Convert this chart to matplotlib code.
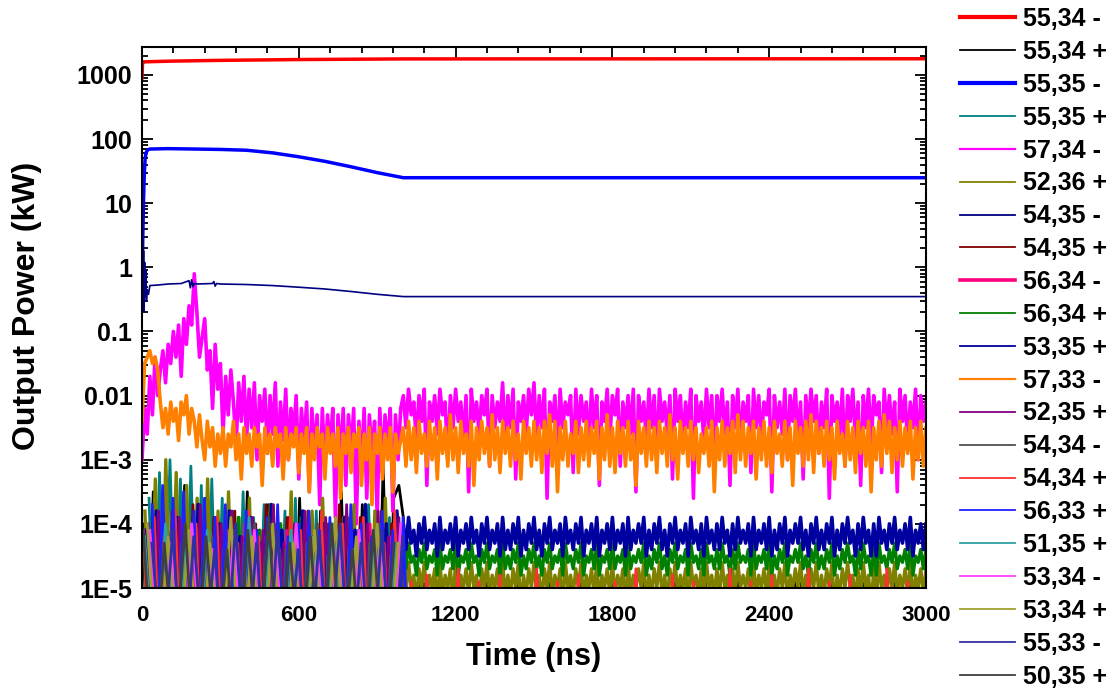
import numpy as np
import matplotlib
matplotlib.use("Agg")
import matplotlib.pyplot as plt
from matplotlib.lines import Line2D
from matplotlib.ticker import FixedLocator, FixedFormatter, MultipleLocator, LogLocator, NullFormatter

plt.rcParams['font.family'] = ['Liberation Sans', 'DejaVu Sans']
plt.rcParams['font.weight'] = 'bold'

# ---------------- data ----------------
labels = ["55,34 -", "55,34 +", "55,35 -", "55,35 +", "57,34 -", "52,36 +", "54,35 -",
          "54,35 +", "56,34 -", "56,34 +", "53,35 +", "57,33 -", "52,35 +", "54,34 -",
          "54,34 +", "56,33 +", "51,35 +", "53,34 -", "53,34 +", "55,33 -", "50,35 +"]

# sample times (ns)
t_fine_pre = np.arange(0, 1000, 10)
t_post = np.arange(1000, 3001, 10)
t_post_c = np.arange(1000, 3001, 20)
t_pre = np.arange(0, 1000, 20)
t_pre40 = np.arange(0, 1000, 40)

# smooth lines (kW)
red_t = [0, 2, 5, 100, 300, 600, 1000, 3000]
red_p = [900, 1550, 1600, 1640, 1690, 1740, 1780, 1790]

blue_t = [0, 3, 6, 9, 12, 16, 22, 30, 100, 200, 300, 400, 500, 600, 700, 800, 900, 1000, 3000]
blue_p = [0.3, 3, 12, 30, 50, 62, 68, 70, 71, 70, 69, 67, 61, 53, 45, 37, 30, 25, 25]

navy_t = [0, 2, 4, 6, 8, 10, 12, 14, 17, 20, 25, 30, 60, 100, 150, 180, 185, 190, 195, 200,
          210, 270, 275, 280, 285, 300, 400, 500, 600, 700, 800, 900, 1000, 3000]
navy_p = [0.08, 2.5, 0.4, 1.8, 0.2, 1.2, 0.35, 0.9, 0.3, 0.45, 0.38, 0.52, 0.53, 0.55, 0.56,
          0.62, 0.48, 0.64, 0.5, 0.56, 0.55, 0.56, 0.6, 0.51, 0.56, 0.55, 0.54, 0.52, 0.49,
          0.46, 0.42, 0.38, 0.35, 0.35]

# noisy series: log10(P/kW) x 10  (values below -50 lie under the axis floor)
mag_pre = [-30, -22, -26, -17, -23, -14, -20, -16, -13, -18,
           -12, -15, -10, -14, -9, -17, -8, -12, -6, -9,
           -1, -7, -14, -11, -8, -16, -13, -22, -12, -19,
           -15, -26, -17, -23, -16, -21, -28, -18, -24, -17,
           -27, -19, -25, -18, -30, -20, -24, -19, -29, -20,
           -26, -18, -31, -21, -27, -19, -30, -22, -26, -20,
           -33, -22, -28, -21, -35, -22, -29, -23, -37, -22,
           -31, -23, -28, -22, -39, -23, -30, -22, -34, -23,
           -29, -22, -40, -24, -31, -22, -36, -23, -29, -24,
           -39, -22, -32, -23, -28, -22, -38, -23, -30, -22]
mag_post = [-20, -25, -19, -23, -21, -27, -20, -24, -19, -34,
            -21, -24, -20, -26, -19, -23, -21, -30, -20, -25,
            -19, -24, -21, -27, -20, -35, -19, -24, -21, -26,
            -20, -23, -19, -31, -20, -25, -21, -24, -18, -28,
            -20, -25, -19, -33, -21, -24, -20, -26, -19, -23,
            -18, -27, -20, -25, -19, -36, -21, -24, -20, -29,
            -19, -25, -21, -23, -20, -32, -19, -26, -20, -24,
            -21, -28, -19, -25, -20, -34, -21, -24, -19, -27,
            -20, -23, -19, -31, -21, -25, -20, -26, -19, -35,
            -20, -24, -21, -27, -19, -25, -20, -30, -19, -24,
            -21, -26, -20, -33, -19, -24, -20, -28, -21, -25,
            -19, -36, -20, -24, -21, -27, -19, -25, -20, -31,
            -20, -24, -19, -26, -21, -34, -20, -25, -19, -28,
            -21, -24, -20, -32, -19, -25, -20, -27, -21, -23,
            -19, -35, -20, -25, -21, -26, -19, -30, -20, -24,
            -19, -27, -21, -33, -20, -25, -19, -24, -20, -29,
            -21, -25, -19, -36, -20, -24, -21, -26, -19, -31,
            -20, -24, -19, -27, -21, -34, -20, -25, -19, -28,
            -20, -23, -21, -32, -19, -25, -20, -26, -21, -35,
            -19, -24, -20, -28, -21, -25, -19, -30, -20, -24,
            -21]

ora_pre = [-24, -15, -14, -13, -15, -14, -16, -21, -25, -22,
           -26, -21, -24, -22, -27, -21, -23, -20, -26, -22,
           -24, -28, -23, -27, -30, -24, -28, -25, -31, -26,
           -29, -25, -31, -26, -28, -24, -30, -26, -33, -25,
           -29, -26, -31, -25, -28, -26, -34, -25, -29, -26,
           -31, -25, -28, -26, -33, -25, -30, -26, -28, -25,
           -32, -26, -29, -25, -35, -26, -30, -25, -28, -26,
           -33, -25, -29, -26, -31, -25, -36, -26, -29, -25,
           -32, -26, -28, -25, -34, -26, -30, -25, -37, -26,
           -29, -25, -33, -26, -30, -25, -35, -26, -29, -27]
ora_post = [-25, -31, -24, -30, -25, -32, -24, -29, -26, -31,
            -24, -30, -25, -33, -24, -29, -25, -31, -23, -30,
            -25, -32, -24, -29, -26, -31, -24, -34, -25, -30,
            -24, -29, -25, -31, -23, -30, -25, -32, -24, -29,
            -25, -31, -24, -30, -26, -33, -24, -29, -25, -31,
            -24, -30, -25, -32, -24, -29, -23, -31, -24, -35,
            -25, -30, -24, -31, -26, -29, -24, -32, -25, -30,
            -24, -31, -25, -29, -24, -33, -25, -30, -23, -31,
            -25, -32, -24, -29, -25, -31, -24, -30, -26, -34,
            -24, -29, -25, -31, -24, -30, -25, -32, -24, -29,
            -25, -31, -23, -30, -25, -33, -24, -29, -25, -31,
            -24, -30, -25, -32, -26, -29, -25, -31, -24, -35,
            -25, -30, -24, -31, -25, -29, -24, -32, -23, -30,
            -24, -31, -25, -29, -24, -33, -25, -30, -24, -31,
            -25, -32, -24, -29, -26, -31, -24, -30, -25, -34,
            -24, -29, -25, -31, -24, -30, -23, -32, -24, -29,
            -25, -31, -24, -30, -25, -33, -24, -29, -26, -31,
            -24, -30, -25, -32, -24, -29, -25, -31, -24, -35,
            -25, -30, -24, -31, -23, -29, -24, -32, -25, -30,
            -24, -31, -25, -29, -24, -33, -25, -30, -24, -31,
            -25]

royal_pre = [-41, -66, -38, -62, -43, -68, -39, -61, -42, -65, -37, -63, -44, -60, -40, -67, -38, -62, -42, -66,
             -39, -61, -43, -69, -37, -63, -41, -60, -44, -66, -38, -62, -42, -68, -40, -61, -43, -65, -39, -63,
             -41, -60, -37, -67, -42, -62, -40, -66, -38, -50]
royal_post = [-40, -44, -39, -43, -41, -45, -40, -43, -39, -44,
              -41, -43, -40, -45, -39, -44, -41, -43, -40, -44,
              -39, -45, -41, -43, -40, -44, -39, -43, -41, -45,
              -40, -43, -39, -44, -41, -43, -40, -45, -39, -44,
              -41, -44, -40, -43, -39, -45, -41, -44, -40, -43,
              -39, -44, -41, -45, -40, -43, -39, -44, -41, -43,
              -40, -45, -39, -43, -41, -44, -40, -43, -39, -45,
              -41, -43, -40, -44, -39, -45, -41, -43, -40, -44,
              -39, -44, -41, -43, -40, -45, -39, -44, -41, -43,
              -40, -43, -39, -45, -41, -44, -40, -43, -39, -44,
              -41, -45, -40, -43, -39, -44, -41, -43, -40, -45,
              -39, -43, -41, -44, -40, -45, -39, -43, -41, -44,
              -40, -44, -39, -43, -41, -45, -40, -44, -39, -43,
              -41, -43, -40, -45, -39, -44, -41, -43, -40, -44,
              -39, -45, -41, -44, -40, -43, -39, -45, -41, -43,
              -40, -43, -39, -44, -41, -45, -40, -43, -39, -44,
              -41, -44, -40, -43, -39, -45, -41, -44, -40, -43,
              -39, -43, -41, -45, -40, -44, -39, -43, -41, -45,
              -40, -45, -39, -43, -41, -44, -40, -43, -39, -44,
              -41, -43, -40, -44, -39, -45, -41, -43, -40, -44,
              -40]

green_pre = [-43, -67, -40, -62, -42, -66, -39, -61, -44, -68, -41, -60, -43, -65, -40, -63, -42, -69, -39, -61,
             -44, -66, -41, -60, -43, -67, -40, -62, -42, -65, -39, -61, -44, -68, -41, -60, -43, -66, -40, -63,
             -42, -69, -39, -61, -44, -65, -41, -60, -43, -50]
green_post = [-44, -47, -43, -46, -45, -48, -44, -46, -43, -47,
              -45, -46, -44, -48, -43, -47, -45, -46, -44, -47,
              -43, -48, -45, -46, -44, -47, -43, -46, -45, -48,
              -44, -46, -43, -47, -45, -46, -44, -48, -43, -47,
              -45, -47, -44, -46, -43, -48, -45, -47, -44, -46,
              -43, -47, -45, -48, -44, -46, -43, -47, -45, -46,
              -44, -48, -43, -46, -45, -47, -44, -46, -43, -48,
              -45, -46, -44, -47, -43, -48, -45, -46, -44, -47,
              -43, -47, -45, -46, -44, -48, -43, -47, -45, -46,
              -44, -46, -43, -48, -45, -47, -44, -46, -43, -47,
              -45, -48, -44, -46, -43, -47, -45, -46, -44, -48,
              -43, -46, -45, -47, -44, -48, -43, -46, -45, -47,
              -44, -47, -43, -46, -45, -48, -44, -47, -43, -46,
              -45, -46, -44, -48, -43, -47, -45, -46, -44, -47,
              -43, -48, -45, -47, -44, -46, -43, -48, -45, -46,
              -44, -46, -43, -47, -45, -48, -44, -46, -43, -47,
              -45, -47, -44, -46, -43, -48, -45, -47, -44, -46,
              -43, -46, -45, -48, -44, -47, -43, -46, -45, -48,
              -44, -48, -43, -46, -45, -47, -44, -46, -43, -47,
              -45, -46, -44, -47, -43, -48, -45, -46, -44, -47,
              -44]

olive_pre = [-38, -60, -33, -63, -30, -58, -32, -64, -34, -61, -36, -66, -33, -59, -38, -67, -35, -62, -39, -68,
             -36, -63, -41, -60, -37, -66, -40, -62, -35, -65, -42, -63, -38, -68, -36, -60, -41, -66, -39, -62,
             -37, -65, -42, -63, -38, -68, -36, -60, -40, -49]
olive_post = [-47, -51, -46, -50, -48, -52, -47, -50, -46, -51,
              -48, -50, -47, -53, -46, -51, -48, -50, -47, -52,
              -46, -52, -48, -50, -47, -51, -46, -50, -48, -53,
              -47, -50, -46, -51, -48, -50, -47, -52, -46, -51,
              -48, -51, -47, -50, -46, -53, -48, -51, -47, -50,
              -46, -51, -48, -52, -47, -50, -46, -51, -48, -50,
              -47, -53, -46, -50, -48, -51, -47, -50, -46, -52,
              -48, -50, -47, -51, -46, -52, -48, -50, -47, -51,
              -46, -51, -48, -50, -47, -53, -46, -51, -48, -50,
              -47, -50, -46, -52, -48, -51, -47, -50, -46, -51,
              -48, -52, -47, -50, -46, -51, -48, -50, -47, -53,
              -46, -50, -48, -51, -47, -52, -46, -50, -48, -51,
              -47, -51, -46, -50, -48, -53, -47, -51, -46, -50,
              -48, -50, -47, -52, -46, -51, -48, -50, -47, -51,
              -46, -53, -48, -51, -47, -50, -46, -52, -48, -50,
              -47, -50, -46, -51, -48, -52, -47, -50, -46, -51,
              -48, -51, -47, -50, -46, -53, -48, -51, -47, -50,
              -46, -50, -48, -52, -47, -51, -46, -50, -48, -53,
              -47, -52, -46, -50, -48, -51, -47, -50, -46, -51,
              -48, -50, -47, -51, -46, -52, -48, -50, -47, -51,
              -47]

black_pre = [-40, -65, -35, -62, -37, -68, -41, -60, -34, -66, -42, -63, -36, -70, -39, -60, -38, -66, -43, -62,
             -35, -70, -41, -61, -37, -66, -44, -63, -39, -69, -36, -62, -42, -66, -38, -60, -40, -69, -35, -64,
             -41, -62, -37, -66, -43, -61, -31, -64, -36, -34]
black_post = [-39, -66, -64, -49, -68, -65, -62, -50, -67, -64, -65, -48, -68, -63, -66, -62, -50, -67, -65, -64,
              -49, -68, -65, -63, -62, -67, -50, -65, -64, -68, -65, -62, -49, -67, -64, -66, -68, -50, -63, -65,
              -62, -67, -65, -48, -64, -68, -65, -62, -50, -67, -64, -66, -68, -49, -65, -63, -62, -67, -65, -50,
              -68, -64, -65, -62, -49, -67, -65, -63, -68, -66, -50, -62, -67, -64, -65, -48, -68, -65, -63, -62,
              -67, -50, -65, -64, -68, -66, -49, -62, -67, -64, -65, -68, -50, -63, -65, -62, -67, -49, -66, -64,
              -68]

teal_pre = [-36, -62, -32, -60, -30, -58, -33, -64, -31, -61, -34, -66, -33, -60, -36, -65, -38, -62, -35, -68,
            -39, -61, -37, -66, -40, -62, -38, -69, -36, -63, -41, -61, -38, -67, -40, -62, -42, -66, -39, -60,
            -41, -67, -37, -63, -42, -61, -39, -66, -43, -62]
wine_pre = [-42, -66, -40, -62, -38, -69, -41, -63, -37, -66, -43, -61, -39, -67, -41, -63, -38, -66, -42, -62,
            -40, -69, -37, -61, -43, -66, -39, -63, -41, -67, -38, -62, -42, -66, -40, -61, -37, -69, -41, -63,
            -39, -66, -43, -62, -38, -67, -40, -61, -42, -64]
pink_pre = [-44, -66, -41, -62, -43, -67, -40, -63, -45, -66, -42, -61, -44, -67, -41, -62, -43, -66, -40, -63,
            -45, -67, -42, -61, -44, -66, -41, -62, -43, -67, -40, -63, -45, -66, -42, -61, -44, -67, -41, -62,
            -43, -66, -40, -63, -45, -67, -42, -61, -44, -66]
violet_pre = [-40, -64, -38, -62, -42, -67, -39, -63, -41, -66, -37, -61, -43, -67, -40, -62, -38, -66, -42, -63,
              -39, -67, -41, -61, -37, -66, -43, -62, -40, -67, -38, -63, -42, -66, -39, -61, -41, -67, -37, -62,
              -43, -66, -40, -63, -38, -67, -42, -61, -39, -66]
gray_pre = [-42, -66, -44, -63, -41, -67, -43, -62, -40, -66, -45, -64, -42, -67, -44, -61, -41, -66, -43, -63,
            -40, -67, -45, -62, -42, -66, -44, -64, -41, -67, -43, -61, -40, -66, -45, -63, -42, -67, -44, -62,
            -41, -66, -43, -64, -40, -67, -45, -61, -42, -66]
lred_pre = [-41, -67, -39, -63, -43, -66, -38, -62, -42, -67, -40, -64, -44, -61, -39, -66, -41, -63, -43, -67,
            -38, -62, -42, -66, -40, -64, -44, -67, -39, -61, -41, -66, -43, -63, -38, -67, -42, -62, -40, -66,
            -44, -64, -39, -67, -41, -61, -43, -66, -38, -63]
lred_post = [-66, -49, -68, -64, -48, -66, -68, -50, -64, -66, -47, -68, -66, -63, -49, -68, -64, -66, -48, -68,
             -66, -64, -50, -68, -66, -47, -64, -68, -66, -49, -68, -64, -66, -48, -68, -66, -50, -64, -68, -66,
             -49, -66, -68, -64, -47, -66, -68, -50, -64, -66, -68, -48, -66, -64, -68, -49, -66, -68, -64, -50,
             -66, -68, -47, -64, -66, -68, -49, -66, -64, -68, -48, -66, -68, -64, -50, -66, -68, -47, -64, -66,
             -68, -49, -66, -64, -68, -48, -66, -68, -50, -64, -66, -68, -47, -66, -64, -68, -49, -66, -68, -64,
             -66]
blue56_pre = [-37, -63, -34, -61, -36, -66, -35, -62, -38, -65, -36, -67, -39, -61, -37, -66, -40, -63, -38, -67,
              -41, -62, -39, -66, -37, -61, -42, -65, -40, -67, -38, -62, -41, -66, -39, -63, -43, -67, -37, -61,
              -40, -66, -42, -62, -38, -65, -41, -67, -39, -63]
teal51_pre = [-42, -66, -40, -63, -43, -67, -41, -62, -44, -66, -39, -64, -43, -67, -41, -63, -42, -66, -40, -62,
              -44, -67, -41, -64, -43]
mag53_pre = [-41, -64, -43, -67, -40, -62, -44, -66, -42, -63, -41, -67, -43, -62, -40, -66, -44, -64, -42, -67,
             -41, -62, -43, -66, -40]
ol53_pre = [-40, -66, -42, -62, -41, -67, -43, -63, -39, -66, -42, -64, -40, -67, -43, -62, -41, -66, -39, -63,
            -42, -67, -40, -64, -43]
sl55_pre = [-43, -63, -41, -67, -42, -62, -44, -66, -40, -64, -43, -67, -41, -63, -44, -66, -42, -62, -40, -67,
            -43, -64, -41, -66, -42]
dg50_pre = [-41, -67, -43, -63, -40, -66, -42, -62, -44, -67, -41, -64, -39, -66, -43, -63, -42, -67, -40, -62,
            -44, -66, -41, -64, -43]

colors = ['#FF0000', '#000000', '#0000FF', '#008080', '#FF00FF', '#808000', '#000080',
          '#800000', '#FF0080', '#008000', '#0000A0', '#FF8000', '#800080', '#505050',
          '#FF3030', '#2020FF', '#30A0A0', '#FF40FF', '#A0A030', '#3030A0', '#404040']
widths = [2.5, 2.0, 2.5, 2.0, 2.6, 2.4, 1.2, 2.0, 2.0, 2.4, 2.6, 2.6, 2.0, 2.0, 2.0, 2.0, 2.0, 2.0, 2.0, 2.0, 2.0]
legend_widths = [3, 1.3, 3, 1.3, 1.6, 1.3, 1.3, 1.3, 2.6, 1.3, 1.3, 1.6, 1.3, 1.3, 1.3, 1.3, 1.3, 1.3, 1.3, 1.3, 1.3]
sample_offsets = [0, 3, 0, 27, 0, 11, 0, 35, 33, 9, 15, 0, 23, 31, 7, 39, 10, 30, 20, 38, 5]


def series(tp, vp, tq=None, vq=None):
    t = np.asarray(tp, float)[:len(vp)]
    v = np.asarray(vp, float)
    if vq is not None:
        t = np.concatenate([t, np.asarray(tq, float)[:len(vq)]])
        v = np.concatenate([v, np.asarray(vq, float)])
    return t, 10 ** (v / 10.0)


def lin(tp, vp):
    return np.asarray(tp, float), np.asarray(vp, float)


def off(grid, k):
    return grid + sample_offsets[k]

data = [
    lin(red_t, red_p),
    series(off(t_pre, 1), black_pre, t_post_c, black_post),
    lin(blue_t, blue_p),
    series(off(t_pre, 3), teal_pre),
    series(t_fine_pre, mag_pre, t_post, mag_post),
    series(off(t_pre, 5), olive_pre, t_post, olive_post),
    lin(navy_t, navy_p),
    series(off(t_pre, 7), wine_pre),
    series(off(t_pre, 8), pink_pre),
    series(off(t_pre, 9), green_pre, t_post, green_post),
    series(off(t_pre, 10), royal_pre, t_post, royal_post),
    series(t_fine_pre, ora_pre, t_post, ora_post),
    series(off(t_pre, 12), violet_pre),
    series(off(t_pre, 13), gray_pre),
    series(off(t_pre, 14), lred_pre, t_post_c + 10, lred_post),
    series(off(t_pre, 15), blue56_pre),
    series(off(t_pre40, 16), teal51_pre),
    series(off(t_pre40, 17), mag53_pre),
    series(off(t_pre40, 18), ol53_pre),
    series(off(t_pre40, 19), sl55_pre),
    series(off(t_pre40, 20), dg50_pre),
]

# ---------------- figure ----------------
fig = plt.figure(figsize=(11.19, 6.90), dpi=100)
ax = fig.add_axes([142 / 1119, 1 - 588 / 690, 784 / 1119, 541 / 690])

for (t, p), c, w in zip(data, colors, widths):
    ax.plot(t, p, color=c, lw=w)

ax.set_yscale('log')
ax.set_xlim(0, 3000)
ax.set_ylim(1e-5, 2730)

yt = [1e-5, 1e-4, 1e-3, 1e-2, 0.1, 1, 10, 100, 1000]
ytl = ['1E-5', '1E-4', '1E-3', '0.01', '0.1', '1', '10', '100', '1000']
ax.yaxis.set_major_locator(FixedLocator(yt))
ax.yaxis.set_major_formatter(FixedFormatter(ytl))
ax.yaxis.set_minor_locator(LogLocator(base=10, subs=np.arange(2, 10), numticks=50))
ax.yaxis.set_minor_formatter(NullFormatter())
ax.xaxis.set_major_locator(MultipleLocator(600))
ax.xaxis.set_minor_locator(MultipleLocator(120))

ax.tick_params(which='both', direction='in', top=True, right=True, width=1.3)
ax.tick_params(which='major', length=8)
ax.tick_params(which='minor', length=4.5)
ax.tick_params(axis='y', labelsize=18, pad=7)
ax.tick_params(axis='x', labelsize=16, pad=12)
for lab in ax.get_xticklabels() + ax.get_yticklabels():
    lab.set_fontweight('bold')
for s in ax.spines.values():
    s.set_linewidth(1.5)

ax.set_xlabel('Time (ns)', fontsize=22, fontweight='bold', labelpad=12)
ax.set_ylabel('Output Power (kW)', fontsize=23, fontweight='bold')
ax.yaxis.set_label_coords(-0.128, 0.521)

handles = [Line2D([], [], color=c, lw=w) for c, w in zip(colors, legend_widths)]
fig.legend(handles, labels, loc='upper left', bbox_to_anchor=(960 / 1119, 1 - 7 / 690),
           frameon=False, fontsize=18, handlelength=2.2, handletextpad=0.32,
           labelspacing=0.355, borderpad=0, borderaxespad=0)

fig.savefig('out.png', dpi=100)
